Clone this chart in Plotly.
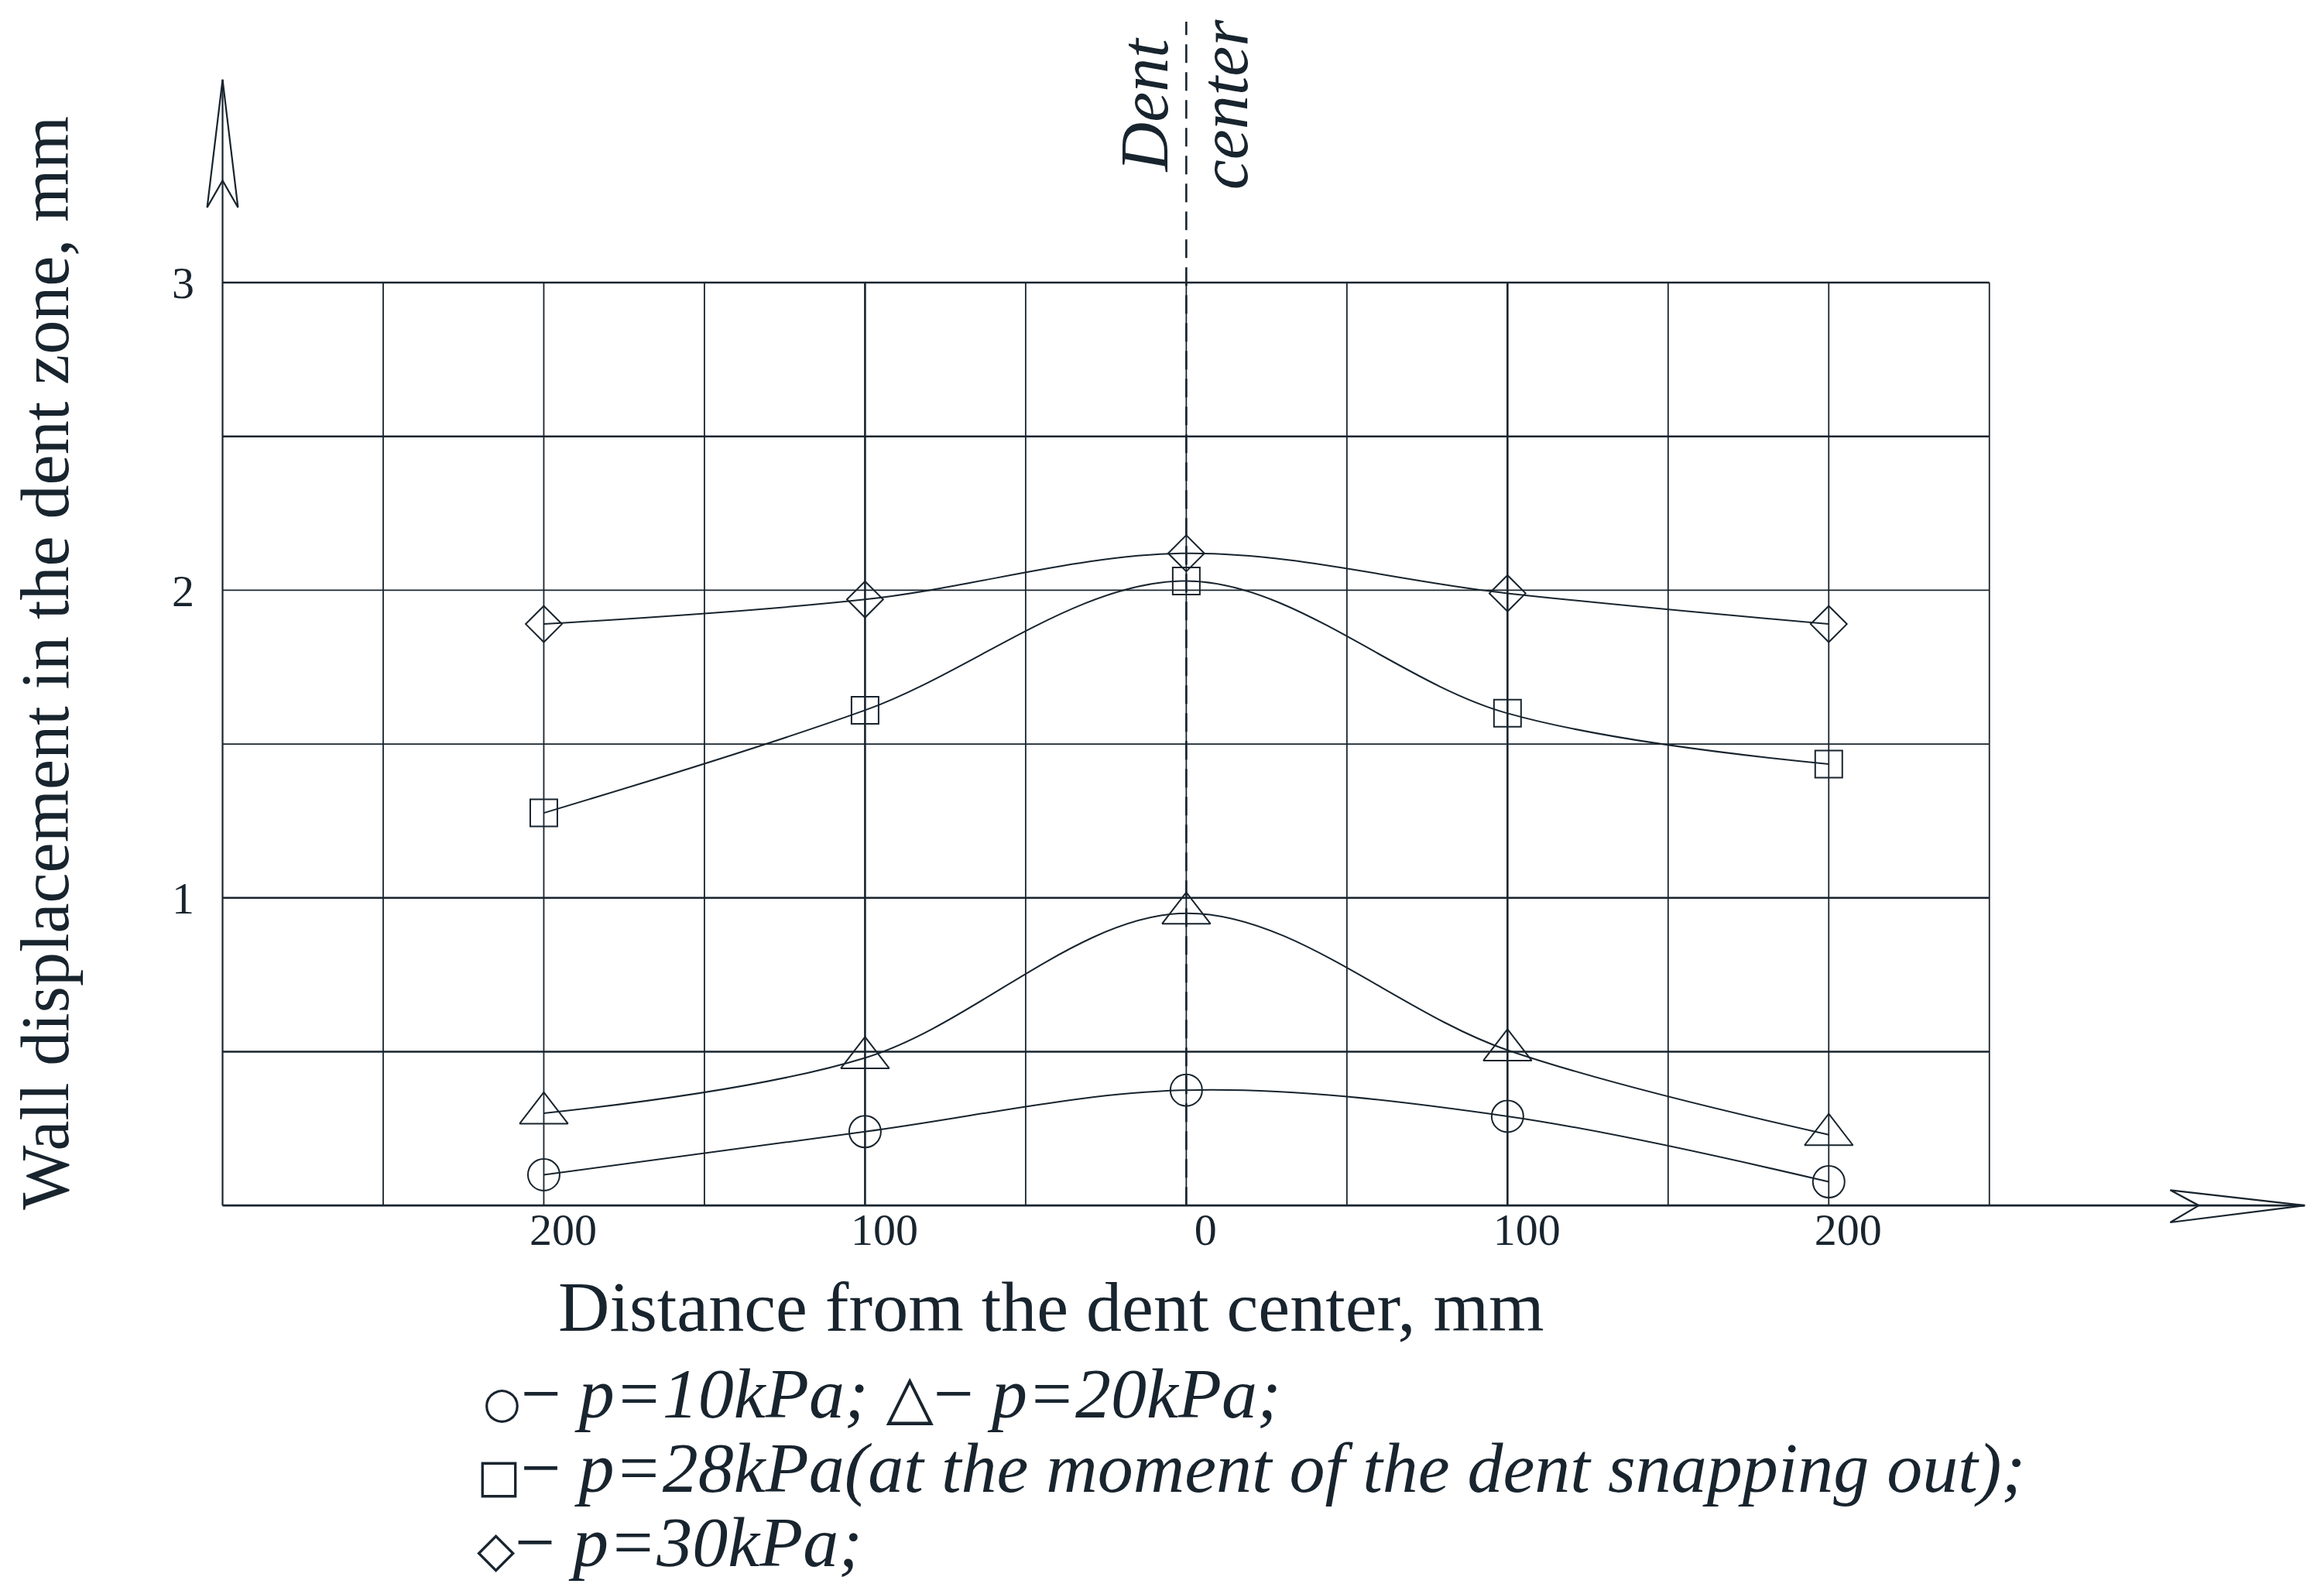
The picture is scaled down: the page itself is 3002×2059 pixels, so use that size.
import numpy as np
import plotly.graph_objects as go

# odległość od środka wgniecenia, mm (lewa strona ujemna)
x_mm = [-200, -100, 0, 100, 200]
x_ticks = [-200, -100, 0, 100, 200]
x_tick_text = ['200', '100', '0', '100', '200']
y_ticks = [1, 2, 3]

# przemieszczenie ścianki, mm
disp_10 = [0.10, 0.24, 0.375, 0.29, 0.077]
disp_20 = [0.30, 0.48, 0.95, 0.505, 0.23]
disp_28 = [1.276, 1.61, 2.03, 1.60, 1.435]
disp_30 = [1.89, 1.97, 2.12, 1.99, 1.89]

INK = '#18242e'
SERIF = 'Liberation Serif, Times New Roman, serif'
SYM = 'font-family:DejaVu Sans;font-style:normal;font-size:'

# rozmiar rysunku i marginesy (px); strona html dodaje 8 px marginesu
W, H = 3002, 2059
PAGE = 8
ML, MR, MT, MB = 237.5, 17.2, 0, 486.2


def paper(px, py):
    """pozycja w pikselach zrzutu -> współrzędne 'paper'"""
    px, py = px - PAGE, py - PAGE
    return (px - ML) / (W - ML - MR), (H - MB - py) / (H - MT - MB)


fig = go.Figure()

series = [
    (disp_10, 'circle-open', 41),
    (disp_20, 'triangle-up-open', 54),
    (disp_28, 'square-open', 35),
    (disp_30, 'diamond-open', 36),
]
for vals, sym, size in series:
    fig.add_trace(go.Scatter(
        x=x_mm, y=vals, mode='lines+markers',
        line=dict(shape='spline', width=2, color=INK),
        marker=dict(symbol=sym, size=size, color=INK, line=dict(width=2, color=INK)),
        showlegend=False, hoverinfo='skip'))

shapes = []
# siatka pionowa co 50 mm
for xv in np.arange(-250, 251, 50):
    w = 2.6 if abs(xv) == 100 else 1.8
    shapes.append(dict(type='line', x0=xv, x1=xv, y0=0, y1=3, layer='below',
                       line=dict(color=INK, width=w)))
# siatka pozioma co 0.5 mm
for yv in np.arange(0.5, 3.01, 0.5):
    w = 1.8 if yv in (1.5, 2.0) else 2.6
    shapes.append(dict(type='line', x0=-300, x1=250, y0=yv, y1=yv, layer='below',
                       line=dict(color=INK, width=w)))
# osie ze strzałkami
shapes.append(dict(type='line', x0=-300, x1=-300, y0=0, y1=3.66, layer='below',
                   line=dict(color=INK, width=2.2)))
shapes.append(dict(type='line', x0=-300, x1=348.2, y0=0, y1=0, layer='below',
                   line=dict(color=INK, width=2.6)))
shapes.append(dict(type='path', path='M -304.8,3.244 L -300,3.66 L -295.2,3.244 L -300,3.332 Z',
                   line=dict(color=INK, width=2.2)))
shapes.append(dict(type='path', path='M 306.3,0.05 L 348.2,0 L 306.3,-0.055 L 315.2,0 Z',
                   line=dict(color=INK, width=2.2)))
# linia środka wgniecenia
shapes.append(dict(type='line', x0=0, x1=0, y0=0, y1=3.848, layer='below',
                   line=dict(color=INK, width=2.6, dash='24px,12px')))


def label(px, py, text, size, angle=0, xanchor='center'):
    x, y = paper(px, py)
    return dict(xref='paper', yref='paper', x=x, y=y, text=text, textangle=angle,
                showarrow=False, font=dict(family=SERIF, size=size, color=INK),
                xanchor=xanchor, yanchor='middle')


annotations = [
    label(1478, 135, '<i>Dent</i>', 88, -90),
    label(1581, 135, '<i>center</i>', 88, -90),
    label(58, 856, 'Wall displacement in the dent zone, mm', 88, -90),
    label(1358, 1688, 'Distance from the dent center, mm', 92),
]

legend_lines = [
    f'<span style="{SYM}56px">○</span>− <i>p=10kPa;</i> '
    f'<span style="{SYM}80px">△</span>− <i>p=20kPa;</i>',
    f'<span style="{SYM}60px">□</span>− <i>p=28kPa(at the moment of the dent snapping out);</i>',
    f'<span style="{SYM}64px">◇</span>− <i>p=30kPa;</i>',
]
legend_x = [622, 614, 614]
legend_y = [1800, 1896, 1992]
for txt, lx, ly in zip(legend_lines, legend_x, legend_y):
    annotations.append(label(lx, ly, txt, 92, xanchor='left'))

fig.update_layout(
    width=W, height=H,
    margin=dict(l=ML, r=MR, t=MT, b=MB, autoexpand=False),
    plot_bgcolor='white', paper_bgcolor='white',
    shapes=shapes, annotations=annotations,
)
fig.update_xaxes(range=[-310, 352], showgrid=False, zeroline=False, showline=False,
                 tickvals=x_ticks, ticktext=x_tick_text, ticks='',
                 tickfont=dict(family=SERIF, size=58, color=INK),
                 ticklabelshift=25, ticklabelstandoff=-32)
fig.update_yaxes(range=[-0.06, 3.8985], showgrid=False, zeroline=False, showline=False,
                 tickvals=y_ticks, ticks='',
                 tickfont=dict(family=SERIF, size=58, color=INK),
                 ticklabelstandoff=-6)

fig.write_html('out.html')
